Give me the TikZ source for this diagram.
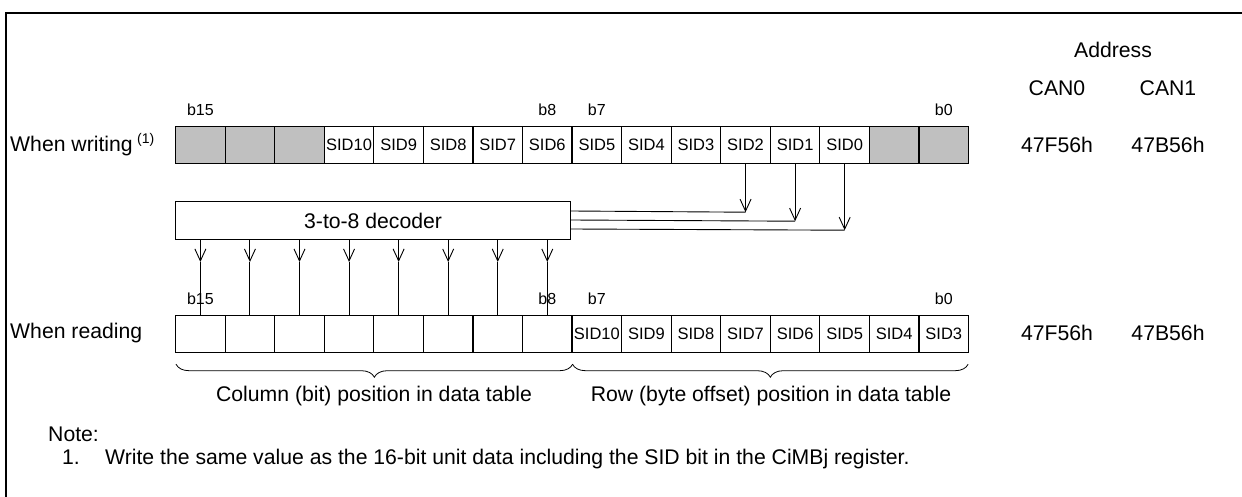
\documentclass[tikz,border=0pt]{standalone}
\usepackage{fontspec}
\setmainfont{Liberation Sans}
\usetikzlibrary{arrows.meta,decorations.pathreplacing,calc}
\definecolor{cellgray}{RGB}{192,192,192}
\begin{document}
\begin{tikzpicture}[x=1pt,y=-1pt,
  cell/.style={draw, line width=1.2pt, minimum width=49.56pt, minimum height=37pt, inner sep=0pt, anchor=north west, font=\fontsize{16.5}{18}\selectfont},
  greycell/.style={cell, fill=cellgray},
  lbl/.style={font=\fontsize{21.2}{24}\selectfont, inner sep=0pt},
  bitlbl/.style={font=\fontsize{16}{18}\selectfont, inner sep=0pt},
  arr/.style={-{Straight Barb[length=12pt,width=11pt]}, line width=0.9pt},
  wire/.style={line width=0.9pt},
  bracestyle/.style={decorate, decoration={brace, amplitude=13pt, mirror}, line width=0.8pt},
  ]
\useasboundingbox (0,0) rectangle (1242,497);
% frame
\draw[line width=2pt] (1242,13) -- (5.5,13) -- (5.5,497);

% address header
\node[lbl] (addr) at (1113,50) {Address};
\node[lbl] (can0) at (1057,88) {CAN0};
\node[lbl] (can1) at (1168,88) {CAN1};

% writing register
\node[lbl, anchor=west] (wlbl) at (10,146) {When writing};
\node[font=\fontsize{14}{16}\selectfont, inner sep=0pt, anchor=west] (sup1) at ($(wlbl.east)+(4,-6)$) {(1)};
\foreach \i in {0,1,2,14,15}
  \node[greycell] (w\i) at ({175+\i*49.56},126) {};
\foreach \i/\n in {3/10,4/9,5/8,6/7,7/6,8/5,9/4,10/3,11/2,12/1,13/0}
  \node[cell] (w\i) at ({175+\i*49.56},126) {SID\n};
\node[bitlbl] (wb15) at ($(w0.north)+(0,-16)$) {b15};
\node[bitlbl] (wb8) at ($(w7.north)+(0,-16)$) {b8};
\node[bitlbl] (wb7) at ($(w8.north)+(0,-16)$) {b7};
\node[bitlbl] (wb0) at ($(w15.north)+(0,-16)$) {b0};
\node[lbl] (wa0) at (1057,145) {47F56h};
\node[lbl] (wa1) at (1168,145) {47B56h};

% decoder
\node[draw, line width=1.2pt, minimum width=395pt, minimum height=38pt, anchor=north west, lbl] (dec) at (175,201) {3-to-8 decoder};

% SID2..SID0 to decoder
\coordinate (t2) at ($(w11.south)+(0,48)$);
\coordinate (t1) at ($(w12.south)+(0,57)$);
\coordinate (t0) at ($(w13.south)+(0,66)$);
\draw[wire] ($(dec.north east)+(0,10)$) -- (t2);
\draw[wire] ($(dec.north east)+(0,19)$) -- (t1);
\draw[wire] ($(dec.north east)+(0,28)$) -- (t0);
\draw[arr] (w11.south) -- (t2);
\draw[arr] (w12.south) -- (t1);
\draw[arr] (w13.south) -- (t0);

% reading register
\node[lbl, anchor=west] (rlbl) at (10,333) {When reading};
\foreach \i in {0,...,7}
  \node[cell] (r\i) at ({175+\i*49.56},315) {};
\foreach \i/\n in {8/10,9/9,10/8,11/7,12/6,13/5,14/4,15/3}
  \node[cell] (r\i) at ({175+\i*49.56},315) {SID\n};
\node[lbl] (ra0) at (1057,333) {47F56h};
\node[lbl] (ra1) at (1168,333) {47B56h};

% decoder outputs
\foreach \i in {0,...,7} {
  \coordinate (m\i) at ($(r\i.north)+(0,-53)$);
  \draw[arr] (r\i.north |- dec.south) -- (m\i);
  \draw[wire] (m\i) -- (r\i.north);
}
\node[bitlbl] (rb15) at ($(r0.north)+(0,-16)$) {b15};
\node[bitlbl] (rb8) at ($(r7.north)+(0,-16)$) {b8};
\node[bitlbl] (rb7) at ($(r8.north)+(0,-16)$) {b7};
\node[bitlbl] (rb0) at ($(r15.north)+(0,-16)$) {b0};

% braces
\draw[bracestyle] ($(r0.south west)+(1,11)$) -- ($(r7.south east)+(0,11)$);
\draw[bracestyle] ($(r8.south west)+(1,11)$) -- ($(r15.south east)+(-1,11)$);
\node[lbl] (coltxt) at (374,396) {Column (bit) position in data table};
\node[lbl] (rowtxt) at (771,396) {Row (byte offset) position in data table};

% note
\node[lbl, anchor=base west] (note) at (48,441) {Note:};
\node[lbl, anchor=base west] (n1) at (62,464) {1.};
\node[lbl, anchor=base west] (n1txt) at (105,464) {Write the same value as the 16-bit unit data including the SID bit in the CiMBj register.};
\end{tikzpicture}
\end{document}
